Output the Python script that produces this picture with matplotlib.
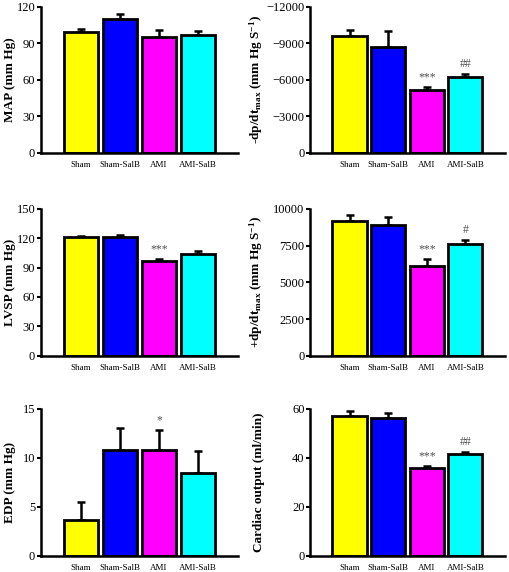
import matplotlib
matplotlib.use("Agg")
import matplotlib.pyplot as plt
import numpy as np

# DATA
groups = ['Sham', 'Sham-SalB', 'AMI', 'AMI-SalB']
colors = ['#ffff00', '#0000ff', '#ff00ff', '#00ffff']

map_mean = [99, 110, 95, 97]
map_err = [3, 4, 6, 3]

neg_dpdt_mean = [-9600, -8700, -5150, -6250]
neg_dpdt_err = [500, 1300, 250, 250]

lvsp_mean = [121, 121, 97, 104]
lvsp_err = [1.5, 2.5, 2, 2.5]

pos_dpdt_mean = [9150, 8900, 6100, 7600]
pos_dpdt_err = [400, 550, 450, 300]

edp_mean = [3.7, 10.8, 10.8, 8.5]
edp_err = [1.8, 2.3, 2.1, 2.2]

co_mean = [57.2, 56.3, 35.9, 41.5]
co_err = [1.8, 2.0, 0.8, 1.0]

marks_neg_dpdt = ['', '', '***', '##']
marks_lvsp = ['', '', '***', '']
marks_pos_dpdt = ['', '', '***', '#']
marks_edp = ['', '', '*', '']
marks_co = ['', '', '***', '##']

plt.rcParams['font.family'] = ['Liberation Serif', 'DejaVu Serif']
plt.rcParams['mathtext.fontset'] = 'custom'
plt.rcParams['mathtext.rm'] = 'Liberation Serif:bold'
plt.rcParams['mathtext.it'] = 'Liberation Serif:italic:bold'
plt.rcParams['mathtext.bf'] = 'Liberation Serif:bold'

fig = plt.figure(figsize=(5.1, 5.72), dpi=100)

def panel(rect, means, errs, ylabel, ylim, yticks, labelx, marks=None, neg=False):
    ax = fig.add_axes(rect)
    x = np.arange(len(groups))
    ax.bar(x, means, width=0.88, color=colors, edgecolor='black', linewidth=2, zorder=2)
    z = np.zeros(len(errs))
    if neg:
        yerr = [errs, z]
    else:
        yerr = [z, errs]
    ax.errorbar(x, means, yerr=yerr, fmt='none', ecolor='black', elinewidth=1.8,
                capsize=3, capthick=1.8, zorder=1)
    ax.set_xlim(-1.02, 4.02)
    ax.set_ylim(*ylim)
    ax.set_yticks(yticks)
    ax.set_xticks(x)
    ax.set_xticklabels(groups, fontsize=6.5)
    ax.tick_params(axis='x', length=0, pad=6)
    ax.tick_params(axis='y', labelsize=9, width=1.5, length=3, pad=1)
    for s in ['top', 'right']:
        ax.spines[s].set_visible(False)
    for s in ['left', 'bottom']:
        ax.spines[s].set_linewidth(1.8)
    ax.set_ylabel(ylabel, fontsize=9.5, fontweight='bold')
    ax.yaxis.set_label_coords(labelx, 0.5)
    if marks is not None:
        span = abs(ylim[1] - ylim[0])
        for i, m in enumerate(marks):
            if m:
                top = means[i] - errs[i] if neg else means[i] + errs[i]
                off = -0.025 * span if neg else 0.025 * span
                ax.text(i, top + off, m, ha='center', va='bottom', fontsize=8.5, color='#505050')
    return ax

left_x, left_w = 0.080, 0.387
right_x, right_w = 0.608, 0.382
rows = [(0.733, 0.255), (0.378, 0.257), (0.028, 0.257)]

panel([left_x, rows[0][0], left_w, rows[0][1]], map_mean, map_err, 'MAP (mm Hg)',
      (0, 120), [0, 30, 60, 90, 120], -0.125)
panel([right_x, rows[0][0], right_w, rows[0][1]], neg_dpdt_mean, neg_dpdt_err,
      r'-dp/dt$_{\mathrm{max}}$ (mm Hg S$^{\mathrm{-1}}$)',
      (0, -12000), [0, -3000, -6000, -9000, -12000], -0.23, marks=marks_neg_dpdt, neg=True)
panel([left_x, rows[1][0], left_w, rows[1][1]], lvsp_mean, lvsp_err, 'LVSP (mm Hg)',
      (0, 150), [0, 30, 60, 90, 120, 150], -0.125, marks=marks_lvsp)
panel([right_x, rows[1][0], right_w, rows[1][1]], pos_dpdt_mean, pos_dpdt_err,
      r'+dp/dt$_{\mathrm{max}}$ (mm Hg S$^{\mathrm{-1}}$)',
      (0, 10000), [0, 2500, 5000, 7500, 10000], -0.23, marks=marks_pos_dpdt)
panel([left_x, rows[2][0], left_w, rows[2][1]], edp_mean, edp_err, 'EDP (mm Hg)',
      (0, 15), [0, 5, 10, 15], -0.125, marks=marks_edp)
panel([right_x, rows[2][0], right_w, rows[2][1]], co_mean, co_err, 'Cardiac output (ml/min)',
      (0, 60), [0, 20, 40, 60], -0.23, marks=marks_co)

fig.savefig('out.png', dpi=100)
